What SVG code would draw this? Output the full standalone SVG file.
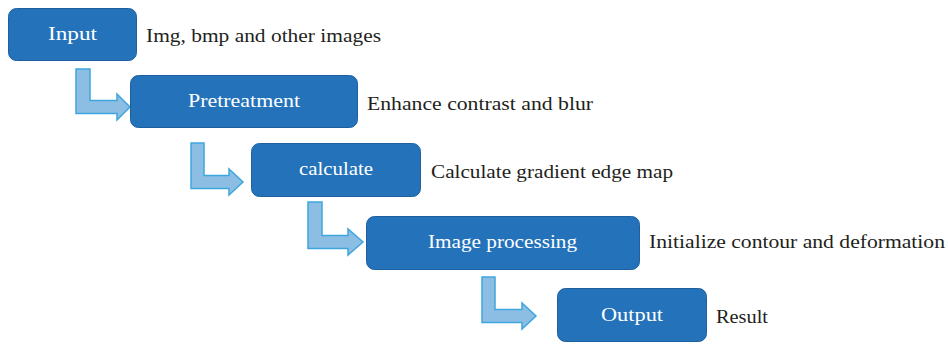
<svg xmlns="http://www.w3.org/2000/svg" width="948" height="345" viewBox="0 0 948 345">
<style>
.box{fill:#2372BA;stroke:#1D5F9F;stroke-width:1}
.lbl{font-family:"Liberation Serif","Times New Roman",serif;font-size:19px;fill:#FFFFFF;text-anchor:start}
.desc{font-family:"Liberation Serif","Times New Roman",serif;font-size:19px;fill:#231F20}
.arr{fill:#8CBEE4;stroke:#3FA6DD;stroke-width:1.5;stroke-linejoin:miter}
</style>
<rect width="948" height="345" fill="#FFFFFF"/>
<g id="connectors">
<path class="arr" d="M76,69 H90 V100.5 H117 V94 L130,107 L117,120 V113.5 H76 Z"/>
<path class="arr" d="M191,143 H204 V175.5 H229 V169 L243,182 L229,195 V188.5 H191 Z"/>
<path class="arr" d="M308,202 H322 V235.5 H348 V229 L363,242 L348,255 V248.5 H308 Z"/>
<path class="arr" d="M482,277 H495 V309.5 H522 V303 L536,316 L522,329 V322.5 H482 Z"/>
</g>
<g id="input">
<rect class="box" x="8.5" y="8.5" width="128" height="52" rx="8"/>
<text class="lbl" x="48" y="40" textLength="49" lengthAdjust="spacingAndGlyphs">Input</text>
<text class="desc" x="146" y="42" textLength="235" lengthAdjust="spacingAndGlyphs">Img, bmp and other images</text>
</g>
<g id="pretreatment">
<rect class="box" x="130.5" y="75.5" width="227" height="52" rx="8"/>
<text class="lbl" x="188" y="107" textLength="112" lengthAdjust="spacingAndGlyphs">Pretreatment</text>
<text class="desc" x="367" y="110" textLength="226" lengthAdjust="spacingAndGlyphs">Enhance contrast and blur</text>
</g>
<g id="calculate">
<rect class="box" x="251.5" y="143.5" width="169" height="53" rx="8"/>
<text class="lbl" x="299" y="175" textLength="74" lengthAdjust="spacingAndGlyphs">calculate</text>
<text class="desc" x="431" y="178" textLength="242" lengthAdjust="spacingAndGlyphs">Calculate gradient edge map</text>
</g>
<g id="image-processing">
<rect class="box" x="366.5" y="216.5" width="273" height="53" rx="8"/>
<text class="lbl" x="428" y="248" textLength="149" lengthAdjust="spacingAndGlyphs">Image processing</text>
<text class="desc" x="649" y="248" textLength="296" lengthAdjust="spacingAndGlyphs">Initialize contour and deformation</text>
</g>
<g id="output">
<rect class="box" x="557.5" y="288.5" width="149" height="53" rx="8"/>
<text class="lbl" x="601" y="321" textLength="62" lengthAdjust="spacingAndGlyphs">Output</text>
<text class="desc" x="716" y="323" textLength="52" lengthAdjust="spacingAndGlyphs">Result</text>
</g>
</svg>
